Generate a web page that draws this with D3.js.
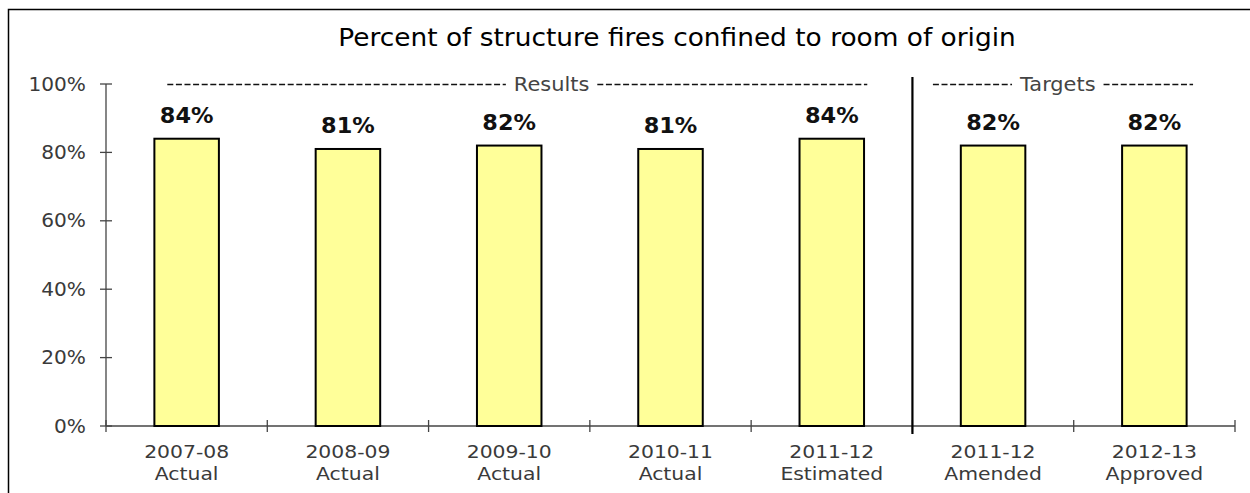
<!DOCTYPE html>
<html>
<head>
<meta charset="utf-8">
<script src="https://cdn.jsdelivr.net/npm/d3@7/dist/d3.min.js"></script>
<style>
  html, body { margin: 0; padding: 0; background: #fff; }
  svg { display: block; font-family: "DejaVu Sans", Verdana, sans-serif; }
</style>
</head>
<body>
<svg id="chart" width="1250" height="493"></svg>
<script>
// Fiscal years and their status line
const years = ["2007-08", "2008-09", "2009-10", "2010-11", "2011-12", "2011-12", "2012-13"];
const statuses = ["Actual", "Actual", "Actual", "Actual", "Estimated", "Amended", "Approved"];
// Percent of structure fires confined to room of origin
const percents = [84, 81, 82, 81, 84, 82, 82];
const yTicks = [0, 20, 40, 60, 80, 100];
// Group headers spanning the categories (first and last index)
const groups = [
  { name: "Results", from: 0, to: 4 },
  { name: "Targets", from: 5, to: 6 }
];

const svg = d3.select("#chart");
const margin = { left: 106, right: 15, top: 84, bottom: 67 };
const W = 1250, H = 493;
const x0 = margin.left, x1 = W - margin.right;
const yBase = H - margin.bottom, yTop = margin.top;

const idx = d3.range(percents.length);
const x = d3.scaleBand().domain(idx).range([x0, x1]).paddingInner(0).paddingOuter(0);
const y = d3.scaleLinear().domain([0, 100]).range([yBase, yTop]);

// Text with a slight horizontal widening, anchored at (tx, ty)
function label(parent, tx, ty, str, opts) {
  const g = parent.append("g")
    .attr("transform", `translate(${tx},${ty}) scale(${opts.sx || 1},1)`);
  return g.append("text")
    .attr("text-anchor", opts.anchor || "middle")
    .attr("dy", opts.dy || null)
    .attr("font-size", opts.size)
    .attr("font-weight", opts.weight || null)
    .attr("fill", opts.fill || "#000")
    .text(str);
}

// Outer frame
svg.append("rect")
  .attr("x", 8.5).attr("y", 9.5)
  .attr("width", 1260).attr("height", 500)
  .attr("fill", "none").attr("stroke", "#000").attr("stroke-width", 1.5);

// Title
label(svg, 677, 46, "Percent of structure fires confined to room of origin",
  { size: 24, sx: 1.1, fill: "#000" });

// Y axis
const yAxis = svg.append("g").attr("transform", `translate(${x0},0)`);
yAxis.append("line")
  .attr("x1", 0).attr("x2", 0).attr("y1", y(100)).attr("y2", y(0))
  .attr("stroke", "#444").attr("stroke-width", 1.3);
yAxis.selectAll("line.tick").data(yTicks).join("line")
  .attr("class", "tick")
  .attr("x1", -6).attr("x2", 6)
  .attr("y1", d => y(d)).attr("y2", d => y(d))
  .attr("stroke", "#444").attr("stroke-width", 1.3);
yTicks.forEach(d => {
  label(yAxis, -20, y(d), d + "%",
    { size: 19, sx: 1.06, anchor: "end", dy: "0.35em", fill: "#3a3a3a" });
});

// X axis
const xAxis = svg.append("g");
xAxis.append("line")
  .attr("x1", x0).attr("x2", x1).attr("y1", yBase).attr("y2", yBase)
  .attr("stroke", "#444").attr("stroke-width", 1.3);
const boundaries = idx.map(i => x(i)).concat([x1]);
xAxis.selectAll("line.tick").data(boundaries).join("line")
  .attr("class", "tick")
  .attr("x1", d => d).attr("x2", d => d)
  .attr("y1", yBase - 6).attr("y2", yBase + 6)
  .attr("stroke", "#444").attr("stroke-width", 1.3);
idx.forEach(i => {
  const cx = x(i) + x.bandwidth() / 2;
  label(xAxis, cx, yBase + 32, years[i], { size: 18.5, sx: 1.1, fill: "#3a3a3a" });
  label(xAxis, cx, yBase + 54, statuses[i], { size: 18.5, sx: 1.1, fill: "#3a3a3a" });
});

// Bars
const barW = x.bandwidth() * 0.4;
svg.selectAll("rect.bar").data(idx).join("rect")
  .attr("class", "bar")
  .attr("x", i => x(i) + (x.bandwidth() - barW) / 2)
  .attr("y", i => y(percents[i]))
  .attr("width", barW)
  .attr("height", i => y(0) - y(percents[i]))
  .attr("fill", "#ffff99")
  .attr("stroke", "#000")
  .attr("stroke-width", 2);

// Value labels
const vals = svg.append("g");
idx.forEach(i => {
  label(vals, x(i) + x.bandwidth() / 2, y(percents[i]) - 16, percents[i] + "%",
    { size: 22, sx: 1.02, weight: "bold", fill: "#111" });
});

// Divider between results and targets
const divX = x(groups[1].from);
svg.append("line")
  .attr("x1", divX).attr("x2", divX)
  .attr("y1", 77).attr("y2", yBase + 8)
  .attr("stroke", "#000").attr("stroke-width", 2.2);

// Group headers: dashed rule with the group name set inside it
const headerY = 84;
// [start inset, end inset] as fractions of a band, and where the name sits along the rule
const spanInset = {
  Results: { a: 0.38, b: 0.72, at: 0.549 },
  Targets: { a: 0.127, b: 0.74, at: 0.48 }
};
groups.forEach(g => {
  const s = spanInset[g.name];
  const left = x(g.from) + x.bandwidth() * s.a;
  const right = x(g.to) + x.bandwidth() * s.b;
  const cx = left + (right - left) * s.at;
  const sx = 1.1;
  const t = label(svg, cx, headerY, g.name,
    { size: 19, sx: sx, dy: "0.35em", fill: "#444" });
  const half = t.node().getComputedTextLength() * sx / 2;
  const gap = 8;
  [[left, cx - half - gap], [cx + half + gap, right]].forEach(([a, b]) => {
    svg.append("line")
      .attr("x1", a).attr("x2", b)
      .attr("y1", headerY + 0.5).attr("y2", headerY + 0.5)
      .attr("stroke", "#111").attr("stroke-width", 1.6)
      .attr("stroke-dasharray", "6,2.6");
  });
});
</script>
</body>
</html>
